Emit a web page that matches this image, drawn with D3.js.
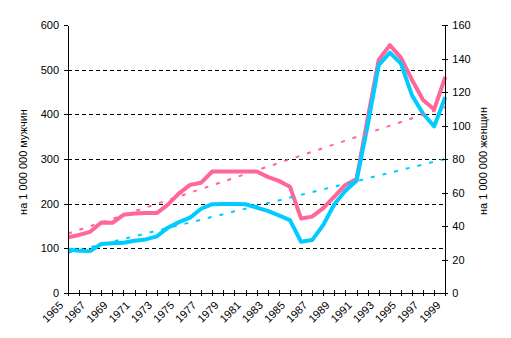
<!DOCTYPE html>
<html>
<head>
<meta charset="utf-8">
<script src="https://cdn.jsdelivr.net/npm/d3@7"></script>
<style>
  html, body { margin: 0; padding: 0; background: #fff; }
  svg { display: block; font-family: "Liberation Sans", Arial, sans-serif; }
</style>
</head>
<body>
<svg id="chart" width="511" height="338"></svg>
<script>
// Years on the category axis
const years = d3.range(1965, 2000);
const yearLabels = years.filter(y => (y - 1965) % 2 === 0);

// Rate per 1 000 000 men (left axis)
const men = [125, 130, 137, 158, 157, 175, 178, 179, 179, 198,
             223, 242, 247, 272, 272, 272, 272, 272, 260, 251,
             238, 167, 171, 190, 216, 242, 255, 390, 522, 555,
             527, 477, 432, 411, 484];

// Rate per 1 000 000 women (right axis)
const women = [26, 25.2, 25, 29.3, 29.7, 30, 31.2, 32, 33.8, 39,
               42.3, 45, 50.3, 53, 53.2, 53.2, 53, 51, 49, 46.3,
               43.5, 30.6, 31.6, 40.6, 53, 61, 67, 100, 136, 143.5,
               137, 118, 107, 99.5, 117];

// Linear trend lines: values at first and last year
const trendYears = [1965, 1999];
const menTrend = [133, 416];
const womenTrend = [24, 80];

// Axis ticks
const leftTicks = [0, 100, 200, 300, 400, 500, 600];
const rightTicks = [0, 20, 40, 60, 80, 100, 120, 140, 160];
const gridTicks = [100, 200, 300, 400, 500];

const leftTitle = "на 1 000 000 мужчин";
const rightTitle = "на 1 000 000 женщин";

const menColor = "#FF6699";
const womenColor = "#00CCFF";

const plot = { left: 68, right: 445.3, top: 25, bottom: 293 };

const svg = d3.select("#chart");

const x = d3.scaleLinear().domain([1965, 1999]).range([plot.left, plot.right]);
const yL = d3.scaleLinear().domain([0, 600]).range([plot.bottom, plot.top]);
const yR = d3.scaleLinear().domain([0, 160]).range([plot.bottom, plot.top]);

// Dashed horizontal gridlines
svg.append("g")
  .selectAll("line")
  .data(gridTicks)
  .join("line")
  .attr("x1", plot.left)
  .attr("x2", plot.right)
  .attr("y1", d => Math.round(yL(d)) + 0.5)
  .attr("y2", d => Math.round(yL(d)) + 0.5)
  .attr("stroke", "#000")
  .attr("stroke-width", 1)
  .attr("stroke-dasharray", "4,3")
  .attr("shape-rendering", "crispEdges");

// Data lines
const lineL = d3.line().x((d, i) => x(years[i])).y(d => yL(d));
const lineR = d3.line().x((d, i) => x(years[i])).y(d => yR(d));

svg.append("path")
  .datum(men)
  .attr("d", lineL)
  .attr("fill", "none")
  .attr("stroke", menColor)
  .attr("stroke-width", 4)
  .attr("stroke-linejoin", "round");

svg.append("path")
  .datum(women)
  .attr("d", lineR)
  .attr("fill", "none")
  .attr("stroke", womenColor)
  .attr("stroke-width", 4)
  .attr("stroke-linejoin", "round");

// Trend lines
const trendL = d3.line().x((d, i) => x(trendYears[i])).y(d => yL(d));
const trendR = d3.line().x((d, i) => x(trendYears[i])).y(d => yR(d));

svg.append("path")
  .datum(menTrend)
  .attr("d", trendL)
  .attr("fill", "none")
  .attr("stroke", menColor)
  .attr("stroke-width", 2)
  .attr("stroke-dasharray", "4,8");

svg.append("path")
  .datum(womenTrend)
  .attr("d", trendR)
  .attr("fill", "none")
  .attr("stroke", womenColor)
  .attr("stroke-width", 2)
  .attr("stroke-dasharray", "4,8");

// Left axis
const gL = svg.append("g")
  .attr("transform", `translate(${plot.left},0)`)
  .call(d3.axisLeft(yL).tickValues(leftTicks).tickSize(4).tickPadding(5).tickSizeOuter(0));

// Right axis, ticks crossing the axis line
const gR = svg.append("g")
  .attr("transform", `translate(${plot.right},0)`)
  .call(d3.axisRight(yR).tickValues(rightTicks).tickSize(3).tickPadding(4).tickSizeOuter(0));
gR.selectAll(".tick line").attr("x1", -3);

// Bottom axis, ticks on every year crossing the axis line
const gB = svg.append("g")
  .attr("transform", `translate(0,${plot.bottom})`)
  .call(d3.axisBottom(x).tickValues(years).tickSize(3).tickFormat("").tickSizeOuter(0));
gB.selectAll(".tick line").attr("y1", -3);

[gL, gR, gB].forEach(g => {
  g.select(".domain").attr("stroke", "#000").attr("stroke-width", 1).attr("shape-rendering", "crispEdges");
  g.selectAll(".tick line").attr("stroke", "#000").attr("shape-rendering", "crispEdges");
  g.selectAll("text").attr("fill", "#000").style("font-size", "11px")
    .style("font-family", "'Liberation Sans', Arial, sans-serif");
});

// Slanted year labels
svg.append("g")
  .selectAll("text")
  .data(yearLabels)
  .join("text")
  .attr("transform", d => `translate(${x(d) - 4},${plot.bottom + 13}) rotate(-45)`)
  .attr("text-anchor", "end")
  .style("font-size", "11px")
  .attr("fill", "#000")
  .text(d => d);

// Axis titles
svg.append("text")
  .attr("transform", `translate(27,162) rotate(-90)`)
  .attr("text-anchor", "middle")
  .style("font-size", "11px")
  .attr("fill", "#000")
  .text(leftTitle);

svg.append("text")
  .attr("transform", `translate(487,161) rotate(-90)`)
  .attr("text-anchor", "middle")
  .style("font-size", "11px")
  .attr("fill", "#000")
  .text(rightTitle);
</script>
</body>
</html>
